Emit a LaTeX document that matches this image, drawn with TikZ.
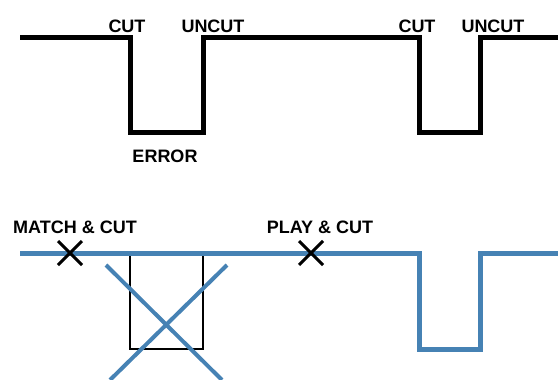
\documentclass[tikz,border=0pt]{standalone}
\usepackage{fontspec}
\setmainfont{Liberation Sans}
\usepackage{xcolor}
\usepackage{tikz}
\usetikzlibrary{positioning,calc}
\definecolor{traceInk}{HTML}{000000}
\definecolor{traceBlue}{HTML}{4682B4}
\tikzset{
  trace/.style={
    line width=5pt,
    draw=traceInk,
    miter limit=10
  },
  traceBlueLine/.style={
    line width=5pt,
    draw=traceBlue,
    miter limit=10
  },
  cutmark/.style={
    line width=3pt,
    draw=traceInk
  },
  crossout/.style={
    line width=4pt,
    draw=traceBlue
  },
  gapbox/.style={
    line width=1.5pt,
    draw=traceInk
  },
  tag/.style={
    anchor=base,
    inner sep=0pt,
    font=\fontsize{18}{20}\selectfont\bfseries
  }
}

\begin{document}
\begin{tikzpicture}[x=1pt,y=-1pt]
  \useasboundingbox (0,0) rectangle (558,380);
  \clip (0,0) rectangle (558,380);
  % top trace
  \coordinate (topStart) at (20,37);
  \coordinate (cutA) at (130,37);
  \coordinate (uncutA) at (203,37);
  \coordinate (cutB) at (419,37);
  \coordinate (uncutB) at (480,37);
  \coordinate (topEnd) at (560,37);
  \draw[trace] (topStart) -- (cutA) -- (130,132) -- (203,132) -- (uncutA)
    -- (cutB) -- (419,132) -- (480,132) -- (uncutB) -- (topEnd);
  \node[tag] (cutLabelA) at (127,32) {CUT};
  \node[tag] (uncutLabelA) at (213,32) {UNCUT};
  \node[tag] (errorLabel) at (165,162) {ERROR};
  \node[tag] (cutLabelB) at (417,32) {CUT};
  \node[tag] (uncutLabelB) at (493,32) {UNCUT};
  % bottom trace
  \coordinate (botStart) at (20,253);
  \coordinate (dipIn) at (419,253);
  \coordinate (dipOut) at (480,253);
  \coordinate (botEnd) at (560,253);
  \draw[gapbox] (130,253) -- (130,349) -- (203,349) -- (203,253);
  \draw[traceBlueLine] (botStart) -- (dipIn) -- (419,349) -- (480,349)
    -- (dipOut) -- (botEnd);
  \draw[crossout] (106,265) -- (222,380);
  \draw[crossout] (227,265) -- (110,380);
  % cut marks
  \coordinate (matchMark) at (70,253);
  \coordinate (playMark) at (311,253);
  \draw[cutmark] ($(matchMark)+(-12,-12)$) -- ($(matchMark)+(12,12)$);
  \draw[cutmark] ($(matchMark)+(-12,12)$) -- ($(matchMark)+(12,-12)$);
  \draw[cutmark] ($(playMark)+(-12,-12)$) -- ($(playMark)+(12,12)$);
  \draw[cutmark] ($(playMark)+(-12,12)$) -- ($(playMark)+(12,-12)$);
  \node[tag] (matchLabel) at (75,233) {MATCH \& CUT};
  \node[tag] (playLabel) at (320,233) {PLAY \& CUT};
\end{tikzpicture}
\end{document}
